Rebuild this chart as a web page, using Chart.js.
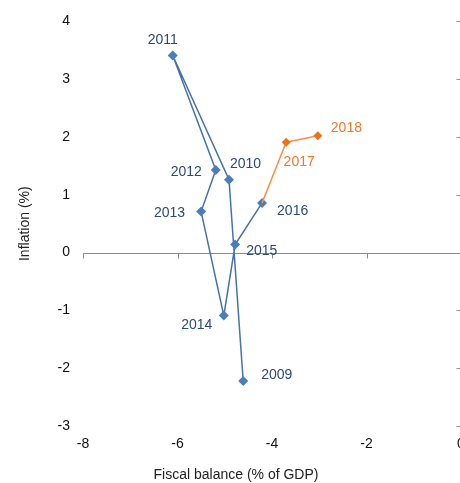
<!DOCTYPE html>
<html>
<head>
<meta charset="utf-8">
<script src="https://cdn.jsdelivr.net/npm/chart.js@4.4.0/dist/chart.umd.min.js"></script>
<style>
  html, body { margin: 0; padding: 0; background: #fff; overflow: hidden; }
</style>
</head>
<body>
<canvas id="chart" width="480" height="483"></canvas>
<script>
// values
const years = ['2009', '2010', '2011', '2012', '2013', '2014', '2015', '2016', '2017', '2018'];
const fiscal = [-4.61, -4.91, -6.10, -5.19, -5.50, -5.02, -4.78, -4.21, -3.70, -3.03];
const inflation = [-2.22, 1.26, 3.41, 1.43, 0.71, -1.09, 0.14, 0.86, 1.91, 2.02];
const xTicks = [-8, -6, -4, -2, 0];
const yTicks = [-3, -2, -1, 0, 1, 2, 3, 4];

const BLUE = '#4a7ebb';
const BLUE_LINE = '#4672a8';
const BLUE_TEXT = '#2b4a78';
const ORANGE = '#e8731a';
const ORANGE_LINE = '#f59148';
const ORANGE_TEXT = '#ee7a2a';
const FONT = '"Liberation Sans", Arial, sans-serif';

const pts = (from, to) => fiscal.slice(from, to).map((x, i) => ({ x: x, y: inflation[from + i] }));

// label placement: [dx, dy, align]
const labelPos = {
    '2009': [18, -6, 'left'],
    '2010': [1, -16, 'left'],
    '2011': [-10, -15, 'center'],
    '2012': [-14, 2, 'right'],
    '2013': [-16, 2, 'right'],
    '2014': [-27, 10, 'center'],
    '2015': [11, 7, 'left'],
    '2016': [15, 8, 'left'],
    '2017': [13, 20, 'center'],
    '2018': [13, -8, 'left']
};

const axesPlugin = {
    id: 'axesPlugin',
    beforeDatasetsDraw(chart) {
        const { ctx, scales: { x, y }, chartArea } = chart;
        const y0 = Math.round(y.getPixelForValue(0)) + 0.5;
        const x0 = Math.round(x.getPixelForValue(0)) + 0.5;
        ctx.save();
        ctx.strokeStyle = '#8c8c8c';
        ctx.lineWidth = 1;
        ctx.beginPath();
        ctx.moveTo(chartArea.left, y0);
        ctx.lineTo(x0, y0);
        xTicks.forEach(v => {
            const px = Math.round(x.getPixelForValue(v)) + 0.5;
            ctx.moveTo(px, y0);
            ctx.lineTo(px, y0 + 5);
        });
        ctx.moveTo(x0, y.getPixelForValue(4));
        ctx.lineTo(x0, y.getPixelForValue(-3));
        yTicks.forEach(v => {
            const py = Math.round(y.getPixelForValue(v)) + 0.5;
            ctx.moveTo(x0 - 5, py);
            ctx.lineTo(x0, py);
        });
        ctx.stroke();

        ctx.fillStyle = '#222';
        ctx.font = '14px ' + FONT;
        ctx.textAlign = 'center';
        ctx.textBaseline = 'middle';
        ctx.fillText('Fiscal balance (% of GDP)', 236, 475);
        ctx.restore();
    },
    afterDatasetsDraw(chart) {
        const { ctx, scales: { x, y } } = chart;
        ctx.save();
        ctx.font = '14px ' + FONT;
        ctx.textBaseline = 'middle';
        years.forEach((yr, i) => {
            const p = labelPos[yr];
            ctx.fillStyle = i >= 8 ? ORANGE_TEXT : BLUE_TEXT;
            ctx.textAlign = p[2];
            ctx.fillText(yr, x.getPixelForValue(fiscal[i]) + p[0], y.getPixelForValue(inflation[i]) + p[1]);
        });
        ctx.restore();
    }
};

new Chart(document.getElementById('chart'), {
    type: 'scatter',
    data: {
        datasets: [
            {
                data: pts(7, 10),
                showLine: true,
                borderColor: ORANGE_LINE,
                backgroundColor: ORANGE,
                borderWidth: 1.5,
                pointStyle: 'rectRot',
                pointRadius: [0, 4.5, 4.5],
                pointBorderWidth: 0
            },
            {
                data: pts(0, 8),
                showLine: true,
                borderColor: BLUE_LINE,
                backgroundColor: BLUE,
                borderWidth: 1.5,
                pointStyle: 'rectRot',
                pointRadius: 5,
                pointBorderWidth: 0
            }
        ]
    },
    options: {
        responsive: false,
        animation: false,
        devicePixelRatio: 1,
        layout: { padding: { top: 20, right: 19, bottom: 0, left: 0 } },
        plugins: {
            legend: { display: false },
            tooltip: { enabled: false }
        },
        scales: {
            x: {
                min: -8,
                max: 0,
                afterBuildTicks: s => { s.ticks = xTicks.map(v => ({ value: v })); },
                afterFit: s => { s.height = 57; },
                grid: { display: false },
                border: { display: false },
                ticks: { color: '#111', font: { size: 14, family: FONT }, padding: 2 },
                title: { display: false }
            },
            y: {
                min: -3,
                max: 4,
                afterBuildTicks: s => { s.ticks = yTicks.map(v => ({ value: v })); },
                afterFit: s => { s.width = 83; },
                grid: { drawTicks: false, color: 'transparent' },
                border: { display: false },
                ticks: { color: '#111', font: { size: 14, family: FONT }, padding: 13 },
                title: {
                    display: true,
                    text: 'Inflation (%)',
                    color: '#222',
                    font: { size: 14, family: FONT },
                    padding: { top: 17, bottom: 0 }
                }
            }
        }
    },
    plugins: [axesPlugin]
});
</script>
</body>
</html>
